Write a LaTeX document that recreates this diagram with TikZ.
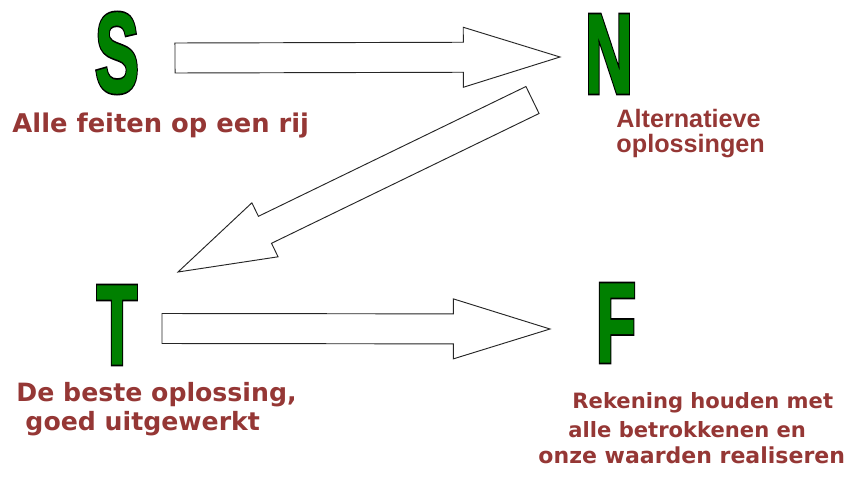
\documentclass[tikz,border=0pt]{standalone}
\usepackage{fontspec}
\usepackage{tikz}
\usetikzlibrary{arrows,calc}
\definecolor{green600}{HTML}{008000}
\definecolor{red800}{HTML}{953735}
\newfontfamily\letterfont[FakeBold=1.5]{Liberation Sans Bold}
\newfontfamily\letterrimfont[FakeBold=4.5]{Liberation Sans Bold}
\newfontfamily\verdfont{DejaVu Sans Bold}
\newfontfamily\arialfont{Liberation Sans Bold}
\tikzstyle{letter}=[inner sep=0pt, text=green600]
\tikzstyle{letterrim}=[inner sep=0pt, text=black]
\tikzstyle{caption}=[inner sep=0pt, anchor=base west, align=left, text=red800]
\tikzstyle{blockarrow}=[draw=black!85, fill=white, line join=miter]
% big outlined letter: name, position, letter
\newcommand{\bigletter}[3]{%
  \node[letterrim] at #2 {\letterrimfont\fontsize{56}{56}\selectfont\scalebox{1}[1.72]{#3}};
  \node[letter] (#1) at #2 {\letterfont\fontsize{56}{56}\selectfont\scalebox{1}[1.72]{#3}};}
% block arrow from tail coordinate to tip coordinate
\newcommand{\blockarrow}[2]{%
  \path ($(#2)!2.9cm!(#1)$) coordinate (#1-head);
  \draw[blockarrow] ($(#1)!0.45cm!90:(#2)$) -- ($(#1-head)!0.45cm!-90:(#1)$)
    -- ($(#1-head)!0.9cm!-90:(#1)$) -- (#2) -- ($(#1-head)!0.9cm!90:(#1)$)
    -- ($(#1-head)!0.45cm!90:(#1)$) -- ($(#1)!0.45cm!-90:(#2)$) -- cycle;}

\begin{document}
\begin{tikzpicture}[thick, x=0.03cm, y=-0.03cm]
			\useasboundingbox (0,0) rectangle (847,476);
			\bigletter{S}{(117,53)}{S}
			\bigletter{N}{(609,54)}{N}
			\bigletter{T}{(117,325)}{T}
			\bigletter{F}{(616,323)}{F}
			\coordinate (sn-tail) at (175,58);	\coordinate (sn-tip) at (560,57);
			\coordinate (nt-tail) at (532.5,100);	\coordinate (nt-tip) at (178,272);
			\coordinate (tf-tail) at (162,328.5);	\coordinate (tf-tip) at (550,329);
			\blockarrow{sn-tail}{sn-tip}
			\blockarrow{nt-tail}{nt-tip}
			\blockarrow{tf-tail}{tf-tip}
			\node[caption, font=\verdfont\fontsize{22}{26}\selectfont] (s-text) at (12,132) {Alle feiten op een rij};
			\node[caption, font=\arialfont\fontsize{21.5}{20.5}\selectfont] (n-text) at (616,152) {Alternatieve\\oplossingen};
			\node[caption, font=\verdfont\fontsize{21.5}{24}\selectfont] (t-text) at (16,430) {De beste oplossing,\\\hspace*{0.27cm}goed uitgewerkt};
			\node[caption, font=\verdfont\fontsize{18}{24.8}\selectfont] (f-text) at (538,463) {\hspace*{1.02cm}Rekening houden met\\\hspace*{0.9cm}alle betrokkenen en\\[-3pt]{\fontsize{18.8}{18.8}\selectfont onze waarden realiseren}};
		\end{tikzpicture}
\end{document}
